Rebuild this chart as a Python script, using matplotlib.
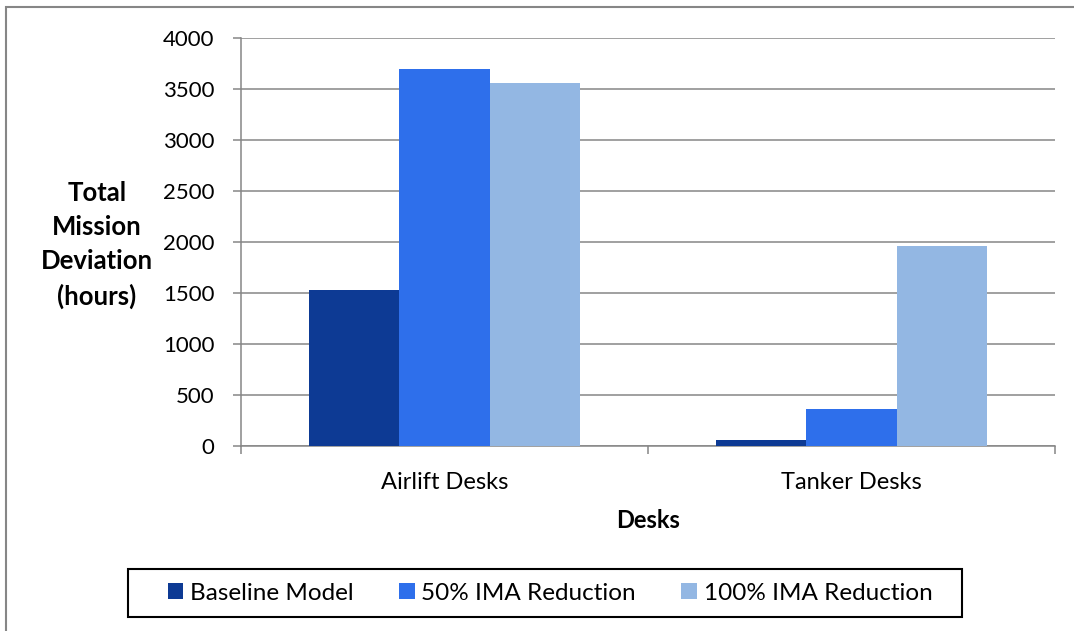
import matplotlib
matplotlib.use("Agg")
import matplotlib.pyplot as plt
from matplotlib.patches import Patch, Rectangle
import numpy as np

categories = ["Airlift Desks", "Tanker Desks"]
series_names = ["Baseline Model", "50% IMA Reduction", "100% IMA Reduction"]
baseline = [1530, 60]
ima50 = [3690, 365]
ima100 = [3560, 1955]
yticks = [0, 500, 1000, 1500, 2000, 2500, 3000, 3500, 4000]

colors = ["#0D3A94", "#2E6FEB", "#93B7E3"]
gray = "#868686"

plt.rcParams["font.family"] = ["Lato", "DejaVu Sans"]

fig = plt.figure(figsize=(10.74, 6.31), dpi=100)
W, H = 1074, 631
ax = fig.add_axes([241 / W, 1 - 446 / H, (1055 - 241) / W, (446 - 37.7) / H])

x = np.arange(len(categories))
bw = 0.222
for i, (vals, c) in enumerate(zip([baseline, ima50, ima100], colors)):
    ax.bar(x + (i - 1) * bw, vals, width=bw, color=c, zorder=3, linewidth=0)

ax.set_xlim(-0.5, 1.5)
ax.set_ylim(0, 4000)
ax.set_yticks(yticks)
ax.set_yticklabels([str(v) for v in yticks])
ax.yaxis.grid(True, color=gray, linewidth=1.1, zorder=0)
ax.set_axisbelow(True)

for s in ["top", "right"]:
    ax.spines[s].set_visible(False)
for s in ["left", "bottom"]:
    ax.spines[s].set_color(gray)
    ax.spines[s].set_linewidth(1.1)

ax.tick_params(axis="y", length=6, width=1.1, color=gray, pad=13, labelsize=16)
ax.set_xticks(x)
ax.set_xticklabels(categories)
ax.tick_params(axis="x", which="major", length=0, pad=19, labelsize=17)
ax.set_xticks([-0.5, 0.5, 1.5], minor=True)
ax.tick_params(axis="x", which="minor", length=6, width=1.1, color=gray)

ax.set_xlabel("Desks", fontsize=17, fontweight="bold", labelpad=11)

fig.text(97 / W, 1 - 245 / H, "Total\nMission\nDeviation\n(hours)", ha="center",
         multialignment="center", va="center", fontsize=18.5, fontweight="bold",
         linespacing=1.5)

# outer chart border
fig.patches.append(Rectangle((6 / W, -0.1), 1.2, 1 - 7 / H + 0.1, transform=fig.transFigure,
                             fill=False, edgecolor=gray, linewidth=1.5))

# legend frame
fig.patches.append(Rectangle((128 / W, 1 - 617 / H), (962 - 128) / W, 48 / H,
                             transform=fig.transFigure, fill=False, edgecolor="black",
                             linewidth=1.5))
handles = [Patch(facecolor=c, edgecolor="none") for c in colors]
leg = fig.legend(handles, series_names, loc="center", bbox_to_anchor=(550 / W, 1 - 593 / H),
                 ncol=3, fontsize=17.5, frameon=False, handlelength=0.65,
                 handleheight=0.65, handletextpad=0.28, columnspacing=1.85, borderpad=0,
                 borderaxespad=0)

fig.savefig("out.png", dpi=100)
